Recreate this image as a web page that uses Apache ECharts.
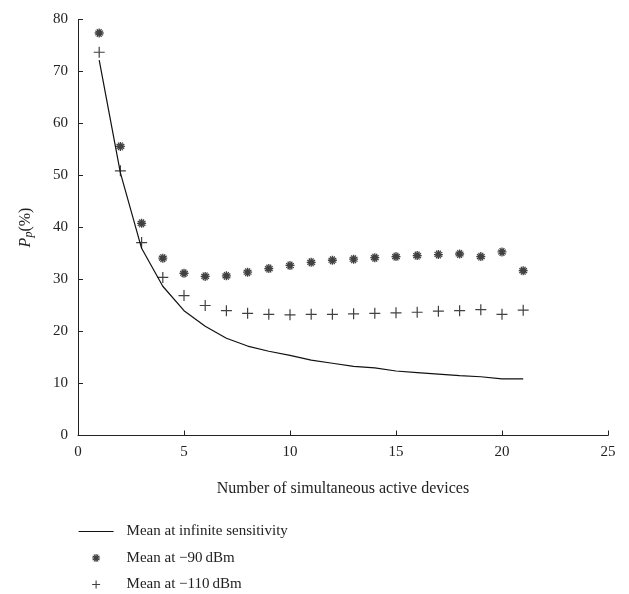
<!DOCTYPE html>
<html>
<head>
<meta charset="utf-8">
<script src="https://cdn.jsdelivr.net/npm/echarts@6/dist/echarts.min.js"></script>
<style>
  html, body { margin: 0; padding: 0; background: #fff; }
  #main { width: 629px; height: 594px; }
</style>
</head>
<body>
<div id="main"></div>
<script>
// devices (x axis)
var devices = [1, 2, 3, 4, 5, 6, 7, 8, 9, 10, 11, 12, 13, 14, 15, 16, 17, 18, 19, 20, 21];
// mean Pp at infinite sensitivity (line)
var meanInfinite = [72.2, 50.5, 36.0, 28.7, 24.0, 21.0, 18.7, 17.2, 16.2, 15.4, 14.5, 13.9, 13.3, 13.0, 12.4, 12.1, 11.8, 11.5, 11.3, 10.9, 10.9];
// mean at -90 dBm (asterisks)
var mean90 = [77.4, 55.6, 40.8, 34.1, 31.2, 30.6, 30.7, 31.4, 32.1, 32.7, 33.3, 33.7, 33.9, 34.2, 34.4, 34.6, 34.8, 34.9, 34.4, 35.3, 31.7];
// mean at -110 dBm (plus signs)
var mean110 = [73.7, 50.9, 37.1, 30.4, 26.9, 25.0, 24.0, 23.5, 23.3, 23.2, 23.3, 23.3, 23.4, 23.5, 23.6, 23.7, 23.9, 24.0, 24.2, 23.3, 24.1];

var names = ['Mean at infinite sensitivity', 'Mean at \u221290\u2009dBm', 'Mean at \u2212110\u2009dBm'];

function pairs(ys) {
  return devices.map(function (d, i) { return [d, ys[i]]; });
}

var starPath = 'path://M0,-5L0,5M-4.33,-2.5L4.33,2.5M-4.33,2.5L4.33,-2.5M-5,0L5,0M-2.5,-4.33L2.5,4.33M-2.5,4.33L2.5,-4.33';
var plusPath = 'path://M0,-5L0,5M-5,0L5,0';

var font = 'Liberation Serif';
var chart = echarts.init(document.getElementById('main'), null, { renderer: 'canvas' });

chart.setOption({
  animation: false,
  textStyle: { fontFamily: font, color: '#222' },
  grid: { left: 78, right: 21, top: 19.5, bottom: 158.5, containLabel: false },
  xAxis: {
    type: 'value',
    min: 0, max: 25, interval: 5,
    name: 'Number of simultaneous active devices',
    nameLocation: 'middle',
    nameGap: 45,
    nameTextStyle: { fontFamily: font, fontSize: 16, color: '#222' },
    axisLine: { lineStyle: { color: '#222', width: 1 } },
    axisTick: { inside: true, length: 5, lineStyle: { color: '#222' } },
    axisLabel: { fontFamily: font, fontSize: 15, color: '#222', margin: 9 },
    splitLine: { show: false }
  },
  yAxis: {
    type: 'value',
    min: 0, max: 80, interval: 10,
    name: '{i|P}{s|p}{n|(%)}',
    nameLocation: 'middle',
    nameGap: 43,
    nameRotate: 90,
    nameTextStyle: {
      rich: {
        i: { fontFamily: font, fontSize: 16, fontStyle: 'italic', color: '#222' },
        s: { fontFamily: font, fontSize: 12, fontStyle: 'italic', color: '#222', verticalAlign: 'bottom', padding: [6, 0, 0, 0] },
        n: { fontFamily: font, fontSize: 16, color: '#222' }
      }
    },
    axisLine: { show: true, lineStyle: { color: '#222', width: 1 } },
    axisTick: { show: true, inside: true, length: 5, lineStyle: { color: '#222' } },
    axisLabel: { fontFamily: font, fontSize: 15, color: '#222', margin: 10 },
    splitLine: { show: false }
  },
  legend: {
    orient: 'vertical',
    left: 78,
    top: 524,
    padding: 0,
    itemWidth: 35,
    itemHeight: 8,
    itemGap: 11.5,
    textStyle: { fontFamily: font, fontSize: 15, lineHeight: 14, color: '#222', padding: [0, 0, 0, 8] },
    data: [
      { name: names[0], itemStyle: { opacity: 0 }, lineStyle: { width: 1.2 } },
      { name: names[1], icon: starPath, itemStyle: { borderWidth: 1.1 } },
      { name: names[2], icon: plusPath, itemStyle: { borderWidth: 1.1 } }
    ]
  },
  series: [
    {
      name: names[0],
      type: 'line',
      data: pairs(meanInfinite),
      symbol: 'none',
      lineStyle: { color: '#111', width: 1.2 },
      itemStyle: { color: '#111' }
    },
    {
      name: names[1],
      type: 'scatter',
      data: pairs(mean90),
      symbol: starPath,
      symbolSize: 9,
      itemStyle: { color: 'rgba(0,0,0,0)', borderColor: '#111', borderWidth: 1.3 }
    },
    {
      name: names[2],
      type: 'scatter',
      data: pairs(mean110),
      symbol: plusPath,
      symbolSize: 11,
      itemStyle: { color: 'rgba(0,0,0,0)', borderColor: '#111', borderWidth: 1.2 }
    }
  ]
});
</script>
</body>
</html>
